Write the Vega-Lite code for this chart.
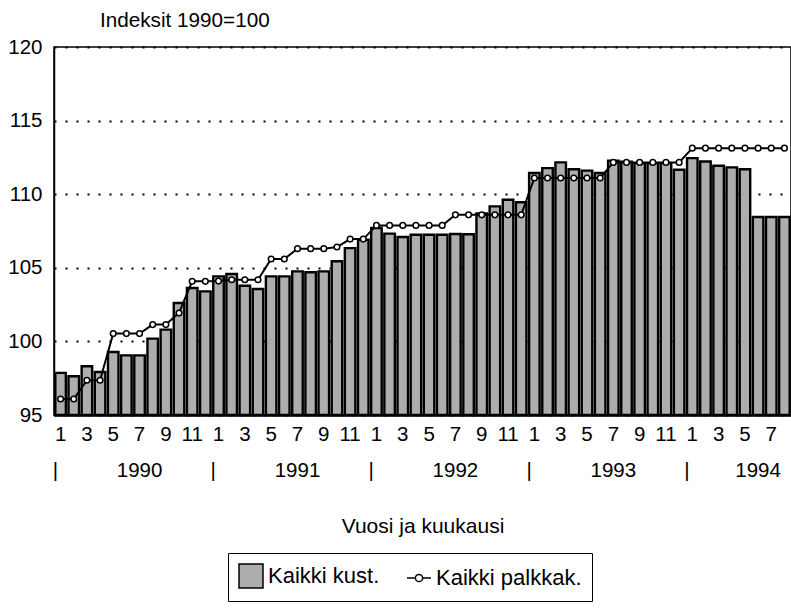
{
  "$schema": "https://vega.github.io/schema/vega-lite/v6.json",
  "width": 737,
  "height": 368,
  "autosize": {"type": "none"},
  "padding": {"left": 54, "top": 47, "right": 0, "bottom": 196},
  "background": "white",
  "config": {
    "font": "Liberation Sans",
    "view": {"stroke": "black", "strokeWidth": 1.5},
    "axis": {"labelColor": "black", "titleColor": "black", "labelFont": "Liberation Sans", "titleFont": "Liberation Sans"},
    "legend": {
      "title": null,
      "orient": "none",
      "legendX": 174,
      "legendY": 506,
      "direction": "horizontal",
      "strokeColor": "black",
      "fillColor": "white",
      "padding": 10,
      "labelFontSize": 22,
      "labelColor": "black",
      "labelOffset": 4,
      "columnPadding": 24,
      "symbolSize": 576,
      "symbolOpacity": 1,
      "symbolStrokeWidth": 1.5
    }
  },
  "title": {
    "text": "Indeksit 1990=100",
    "anchor": "start",
    "frame": "group",
    "dx": 46,
    "offset": 5,
    "fontSize": 20.7,
    "fontWeight": "normal",
    "color": "black"
  },
  "datasets": {
    "m": [
      {"month": "1990-01", "kust": 97.86, "palk": 96.09},
      {"month": "1990-02", "kust": 97.63, "palk": 96.09},
      {"month": "1990-03", "kust": 98.31, "palk": 97.36},
      {"month": "1990-04", "kust": 97.92, "palk": 97.36},
      {"month": "1990-05", "kust": 99.28, "palk": 100.53},
      {"month": "1990-06", "kust": 99.05, "palk": 100.53},
      {"month": "1990-07", "kust": 99.05, "palk": 100.53},
      {"month": "1990-08", "kust": 100.19, "palk": 101.14},
      {"month": "1990-09", "kust": 100.8, "palk": 101.14},
      {"month": "1990-10", "kust": 102.61, "palk": 101.93},
      {"month": "1990-11", "kust": 103.63, "palk": 104.08},
      {"month": "1990-12", "kust": 103.4, "palk": 104.08},
      {"month": "1991-01", "kust": 104.42, "palk": 104.1},
      {"month": "1991-02", "kust": 104.58, "palk": 104.19},
      {"month": "1991-03", "kust": 103.78, "palk": 104.19},
      {"month": "1991-04", "kust": 103.56, "palk": 104.19},
      {"month": "1991-05", "kust": 104.42, "palk": 105.6},
      {"month": "1991-06", "kust": 104.42, "palk": 105.6},
      {"month": "1991-07", "kust": 104.76, "palk": 106.3},
      {"month": "1991-08", "kust": 104.7, "palk": 106.3},
      {"month": "1991-09", "kust": 104.76, "palk": 106.3},
      {"month": "1991-10", "kust": 105.45, "palk": 106.41},
      {"month": "1991-11", "kust": 106.34, "palk": 106.95},
      {"month": "1991-12", "kust": 106.91, "palk": 106.95},
      {"month": "1992-01", "kust": 107.7, "palk": 107.88},
      {"month": "1992-02", "kust": 107.32, "palk": 107.88},
      {"month": "1992-03", "kust": 107.09, "palk": 107.88},
      {"month": "1992-04", "kust": 107.25, "palk": 107.88},
      {"month": "1992-05", "kust": 107.25, "palk": 107.88},
      {"month": "1992-06", "kust": 107.25, "palk": 107.88},
      {"month": "1992-07", "kust": 107.3, "palk": 108.6},
      {"month": "1992-08", "kust": 107.28, "palk": 108.6},
      {"month": "1992-09", "kust": 108.7, "palk": 108.6},
      {"month": "1992-10", "kust": 109.17, "palk": 108.6},
      {"month": "1992-11", "kust": 109.62, "palk": 108.6},
      {"month": "1992-12", "kust": 109.45, "palk": 108.6},
      {"month": "1993-01", "kust": 111.44, "palk": 111.1},
      {"month": "1993-02", "kust": 111.77, "palk": 111.1},
      {"month": "1993-03", "kust": 112.16, "palk": 111.1},
      {"month": "1993-04", "kust": 111.7, "palk": 111.1},
      {"month": "1993-05", "kust": 111.6, "palk": 111.1},
      {"month": "1993-06", "kust": 111.44, "palk": 111.1},
      {"month": "1993-07", "kust": 112.27, "palk": 112.16},
      {"month": "1993-08", "kust": 112.2, "palk": 112.16},
      {"month": "1993-09", "kust": 112.11, "palk": 112.16},
      {"month": "1993-10", "kust": 112.11, "palk": 112.16},
      {"month": "1993-11", "kust": 112.11, "palk": 112.16},
      {"month": "1993-12", "kust": 111.66, "palk": 112.16},
      {"month": "1994-01", "kust": 112.45, "palk": 113.13},
      {"month": "1994-02", "kust": 112.22, "palk": 113.13},
      {"month": "1994-03", "kust": 111.93, "palk": 113.13},
      {"month": "1994-04", "kust": 111.82, "palk": 113.13},
      {"month": "1994-05", "kust": 111.7, "palk": 113.13},
      {"month": "1994-06", "kust": 108.45, "palk": 113.13},
      {"month": "1994-07", "kust": 108.45, "palk": 113.13},
      {"month": "1994-08", "kust": 108.45, "palk": 113.13}
    ],
    "years": [
      {"year": "1990", "jan": "1990-01", "mid": "1990-07"},
      {"year": "1991", "jan": "1991-01", "mid": "1991-07"},
      {"year": "1992", "jan": "1992-01", "mid": "1992-07"},
      {"year": "1993", "jan": "1993-01", "mid": "1993-07"},
      {"year": "1994", "jan": "1994-01", "mid": "1994-06"}
    ],
    "series": [
      {"s": "Kaikki kust."},
      {"s": "Kaikki palkkak."}
    ]
  },
  "layer": [
    {
      "data": {"name": "m"},
      "mark": {"type": "bar", "fill": "#adadad", "stroke": "black", "strokeWidth": 2.4},
      "encoding": {
        "x": {
          "field": "month",
          "type": "nominal",
          "scale": {"paddingInner": 0.2, "paddingOuter": 0.1},
          "axis": {
            "title": "Vuosi ja kuukausi",
            "labelExpr": "(+slice(datum.value, 5)) % 2 == 1 ? '' + (+slice(datum.value, 5)) : ''",
            "labelAngle": 0,
            "ticks": false,
            "domain": true,
            "domainColor": "black",
            "domainWidth": 2.5,
            "labelFontSize": 20.5,
            "labelPadding": 9,
            "labelOverlap": false,
            "labelBound": false,
            "titleFontSize": 21,
            "titleFontWeight": "normal",
            "titlePadding": 71
          }
        },
        "y": {
          "field": "kust",
          "type": "quantitative",
          "scale": {"domain": [95, 120], "nice": false, "zero": false},
          "axis": {
            "title": null,
            "values": [95, 100, 105, 110, 115, 120],
            "ticks": false,
            "labelFontSize": 20.5,
            "labelPadding": 12,
            "domainColor": "black",
            "domainWidth": 1.5,
            "grid": true,
            "gridColor": "black",
            "gridDash": [2, 9],
            "gridWidth": 2,
            "gridOpacity": 1
          }
        },
        "y2": {"datum": 95}
      }
    },
    {
      "data": {"name": "m"},
      "mark": {"type": "line", "stroke": "black", "strokeWidth": 2},
      "encoding": {
        "x": {"field": "month", "type": "nominal"},
        "y": {"field": "palk", "type": "quantitative"}
      }
    },
    {
      "data": {"name": "m"},
      "mark": {"type": "point", "shape": "circle", "filled": true, "fill": "white", "stroke": "black", "strokeWidth": 1.5, "size": 32, "opacity": 1},
      "encoding": {
        "x": {"field": "month", "type": "nominal"},
        "y": {"field": "palk", "type": "quantitative"}
      }
    },
    {
      "data": {"name": "years"},
      "mark": {"type": "text", "dy": 56, "fontSize": 20.5, "color": "black", "baseline": "middle"},
      "encoding": {
        "x": {"field": "mid", "type": "nominal", "bandPosition": 0.5},
        "y": {"datum": 95, "type": "quantitative"},
        "text": {"field": "year"}
      }
    },
    {
      "data": {"name": "years"},
      "mark": {"type": "text", "dy": 56, "fontSize": 20.5, "color": "black", "baseline": "middle"},
      "encoding": {
        "x": {"field": "jan", "type": "nominal", "bandPosition": 0},
        "y": {"datum": 95, "type": "quantitative"},
        "text": {"value": "|"}
      }
    },
    {
      "data": {"name": "series"},
      "mark": {"type": "point", "filled": true, "strokeWidth": 1.5, "opacity": 0},
      "encoding": {
        "shape": {
          "field": "s",
          "type": "nominal",
          "scale": {"domain": ["Kaikki kust.", "Kaikki palkkak."], "range": ["square", "M-1,0H-0.3M0.3,0H1M-0.3,0A0.3,0.3 0 1,1 0.3,0A0.3,0.3 0 1,1 -0.3,0"]}
        },
        "fill": {
          "field": "s",
          "type": "nominal",
          "scale": {"domain": ["Kaikki kust.", "Kaikki palkkak."], "range": ["#adadad", "white"]}
        },
        "stroke": {
          "field": "s",
          "type": "nominal",
          "scale": {"domain": ["Kaikki kust.", "Kaikki palkkak."], "range": ["black", "black"]}
        }
      }
    }
  ]
}
